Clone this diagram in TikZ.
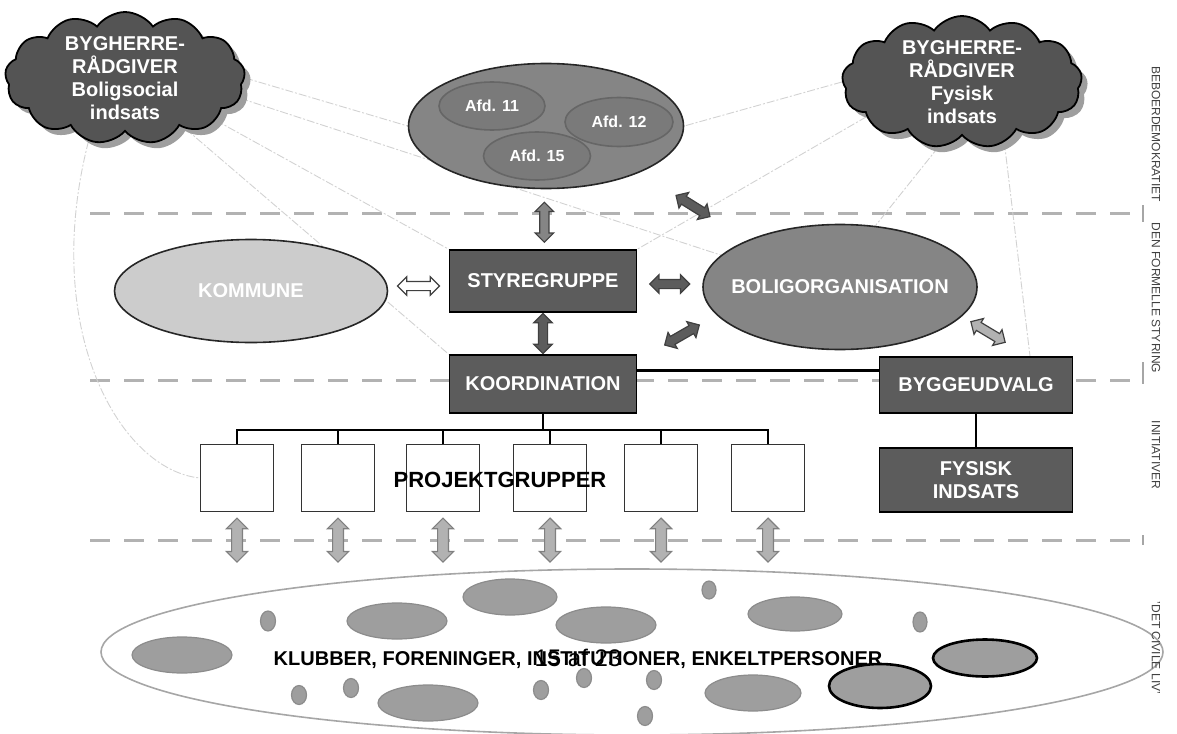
\documentclass[tikz,border=0pt]{standalone}
\usepackage{fontspec}
\setmainfont{Liberation Sans}
\setsansfont{Liberation Sans}
\usetikzlibrary{shapes.geometric,shapes.symbols,shapes.arrows,shadows,calc,backgrounds}

\definecolor{boxGray}{gray}{0.36}
\definecolor{cloudGray}{gray}{0.33}
\definecolor{shadowGray}{gray}{0.62}
\definecolor{ovalGray}{gray}{0.52}
\definecolor{afdGray}{gray}{0.48}
\definecolor{kommuneGray}{gray}{0.80}
\definecolor{blobGray}{gray}{0.62}
\definecolor{lightArrow}{gray}{0.70}

\begin{document}
\begin{tikzpicture}[x=0.5pt, y=-0.5pt,
  every node/.append style={font=\bfseries\fontsize{10pt}{11.5pt}\selectfont},
  darkbox/.style={draw=black, line width=0.8pt, fill=boxGray, text=white, align=center, inner sep=0pt},
  cloudbox/.style={cloud, cloud puffs=13, cloud puff arc=110, cloud ignores aspect, draw=black, line width=0.9pt,
    fill=cloudGray, minimum width=120pt, minimum height=66pt, inner sep=0pt,
    drop shadow={shadow xshift=3pt, shadow yshift=-3pt, fill=shadowGray, opacity=1}},
  oval/.style={ellipse, draw=black!85, line width=0.8pt, inner sep=0pt},
  blob/.style={ellipse, draw=black!45, line width=0.6pt, fill=blobGray, inner sep=0pt},
  blockarrow/.style={double arrow, draw=black!75, line width=0.6pt, fill=#1, inner sep=2pt,
    minimum height=20pt, double arrow head extend=2.3pt, double arrow head indent=0pt},
  sep/.style={gray!60, line width=1.5pt, dash pattern=on 10pt off 7pt},
  faint/.style={gray!35, line width=0.45pt, dash pattern=on 4pt off 1pt on 1pt off 1pt},
  side/.style={font=\mdseries\fontsize{6pt}{7pt}\selectfont, text=black!75, rotate=-90}]

\useasboundingbox (0,0) rectangle (1177,733);

% clouds
\node[cloudbox, label={[text=white, align=center]center:{BYGHERRE-\\RÅDGIVER\\Boligsocial\\indsats}}] (cloudLeft) at (125,78) {};
\node[cloudbox, label={[text=white, align=center]center:{BYGHERRE-\\RÅDGIVER\\Fysisk\\indsats}}] (cloudRight) at (962,82) {};

% beboerdemokratiet
\node[oval, fill=ovalGray, minimum width=137.5pt, minimum height=62.5pt] (afdelinger) at (546,126) {};
\node[oval, fill=afdGray, draw=black!60, text=white, minimum width=53pt, minimum height=24pt, font=\bfseries\fontsize{8pt}{9pt}\selectfont] (afd11) at (492,106) {Afd. 11};
\node[oval, fill=afdGray, draw=black!60, text=white, minimum width=54pt, minimum height=24.5pt, font=\bfseries\fontsize{8pt}{9pt}\selectfont] (afd12) at (619,122) {Afd. 12};
\node[oval, fill=afdGray, draw=black!60, text=white, minimum width=53.5pt, minimum height=24pt, font=\bfseries\fontsize{8pt}{9pt}\selectfont] (afd15) at (537,156) {Afd. 15};

% formel styring
\node[oval, fill=kommuneGray, text=white, minimum width=136.5pt, minimum height=51.5pt] (kommune) at (251,291) {KOMMUNE};
\node[darkbox, minimum width=93.5pt, minimum height=31pt] (styre) at (543,281) {STYREGRUPPE};
\node[darkbox, minimum width=93.5pt, minimum height=29pt] (koord) at (543,384) {KOORDINATION};
\node[oval, fill=ovalGray, minimum width=137pt, minimum height=62.5pt, label={[text=white]center:BOLIGORGANISATION}] (bolig) at (840,287) {};
\node[darkbox, minimum width=96.5pt, minimum height=28pt] (bygge) at (976,385) {BYGGEUDVALG};
\node[darkbox, minimum width=96.5pt, minimum height=32pt] (fysisk) at (976,480) {FYSISK\\INDSATS};

% projektgrupper
\foreach \x [count=\i] in {237,338,443,550,661,768}
  \node[draw=black!80, line width=0.6pt, fill=white, minimum width=36.5pt, minimum height=33.5pt] (pg\i) at (\x,478) {};
\node[font=\bfseries\fontsize{11pt}{12pt}\selectfont] (pgText) at (500,480) {PROJEKTGRUPPER};

% det civile liv
\node[ellipse, draw=gray!70, line width=0.8pt, minimum width=531pt, minimum height=83pt] (civil) at (632,652) {};
\foreach \x/\y/\w/\h in {182/655/50/18, 397/621/50/18, 510/597/47/18, 606/625/50/18, 795/614/47/17,
    428/703/50/18, 753/693/48/18, 268/621/7.5/10, 709/590/7/9, 920/622/7/10, 299/695/7.5/9.5,
    351/688/7.5/9.5, 541/690/7.5/9.5, 584/678/7.5/9.5, 654/680/7.5/9.5, 645/716/7.5/9.5}
  \node[blob, minimum width=\w pt, minimum height=\h pt] at (\x,\y) {};
\node[blob, draw=black, line width=1.3pt, minimum width=52pt, minimum height=18.5pt] (blobA) at (985,658) {};
\node[blob, draw=black, line width=1.3pt, minimum width=51pt, minimum height=22pt] (blobB) at (880,686) {};
\node (civilText) at (578,660) {KLUBBER, FORENINGER, INSTITUTIONER, ENKELTPERSONER};
\node[font=\mdseries\fontsize{12pt}{13pt}\selectfont] (pageNo) at (578,658) {15 af 23};

% block arrows
\node[blockarrow=ovalGray, rotate=90] (aTop) at ($(afdelinger.south)!0.55!(styre.north)$) {};
\node[blockarrow=boxGray, rotate=90] (aMid) at ($(styre.south)!0.5!(koord.north)$) {};
\node[blockarrow=white, minimum height=21pt] (aKom) at ($(kommune.east)!0.5!(styre.west)$) {};
\node[blockarrow=boxGray] (aBol) at ($(styre.east)!0.5!(bolig.west)$) {};
\node[blockarrow=boxGray, rotate=-32] (aDiagTop) at (693,206) {};
\node[blockarrow=boxGray, rotate=30] (aDiagLow) at (682,335) {};
\node[blockarrow=lightArrow, rotate=-31] (aBygge) at (988,332) {};
\foreach \i in {1,...,6}
  \node[blockarrow=lightArrow, draw=gray, rotate=90, minimum height=22pt, inner sep=2.4pt, double arrow head extend=2.6pt] (aPg\i) at ($(pg\i.south)+(0,28)$) {};

% tree
\coordinate (bus) at (543,430);
\foreach \i in {1,...,6}
  \draw[line width=1.3pt] (koord.south) -- (koord.south |- bus) -| (pg\i.north);
\draw[line width=1.3pt] (koord.8) -- (koord.8 -| bygge.west);
\draw[line width=1.3pt] (bygge.south) -- (fysisk.north);

% separators and side labels
\begin{scope}[on background layer]
\draw[sep] (90,213) -- (1130,213);
\draw[sep] (90,380) -- (1130,380);
\draw[sep] (90,540) -- (1130,540);
\draw[gray!70, line width=1pt] (1143,205) -- (1143,222) (1143,362) -- (1143,384) (1143,535) -- (1143,545);

% thin ties to the advisers
\draw[faint] (cloudLeft.east) -- (afdelinger.west);
\draw[faint] (cloudLeft.-10) -- (bolig.165);
\draw[faint] (cloudLeft.-25) -- (styre.north west);
\draw[faint] (cloudLeft.-40) -- (koord.north west);
\draw[faint] (cloudLeft.-120) .. controls (40,330) and (120,470) .. (pg1.west);
\draw[faint] (cloudRight.west) -- (afdelinger.east);
\draw[faint] (cloudRight.200) -- (styre.north east);
\draw[faint] (cloudRight.-110) -- (bolig.60);
\draw[faint] (cloudRight.-55) -- (bygge.north -| 1030,0);
\end{scope}

\node[side] (labDemo) at (1156,134) {BEBOERDEMOKRATIET};
\node[side] (labStyring) at (1156,298) {DEN FORMELLE STYRING};
\node[side] (labInit) at (1156,455) {INITIATIVER};
\node[side] (labCivil) at (1156,648) {'DET CIVILE LIV'};

\end{tikzpicture}
\end{document}
